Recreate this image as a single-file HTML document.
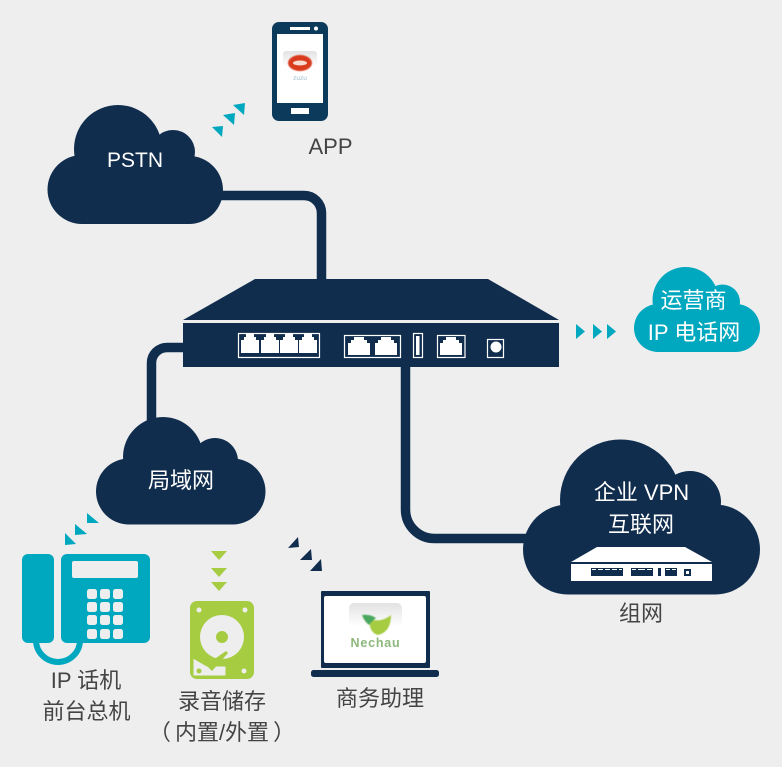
<!DOCTYPE html>
<html>
<head>
<meta charset="utf-8">
<style>
html,body{margin:0;padding:0;background:#eeeeee;}
svg{display:block;}
text{font-family:"Liberation Sans","Noto Sans CJK SC",sans-serif;text-anchor:middle;}
.w{fill:#fff;font-size:22px;}
.d{fill:#444;font-size:22px;}
</style>
</head>
<body>
<svg width="782" height="767" viewBox="0 0 782 767" xmlns="http://www.w3.org/2000/svg">
<defs>
<path id="p" d="M0,6h3v-3h2v-3h8v3h2v3h3v13h-18z" fill="#fff"/>
<linearGradient id="g1" x1="0" y1="0" x2="0" y2="1"><stop offset="0" stop-color="#e2e2e2"/><stop offset=".5" stop-color="#fff"/></linearGradient>
<filter id="b"><feGaussianBlur stdDeviation=".5"/></filter>
</defs>
<rect width="782" height="767" fill="#eeeeee"/>

<!-- connectors -->
<g fill="none" stroke="#112d4e" stroke-width="9.5">
<path d="M215,195.500H304A17.500,17.500 0 0 1 321.500,213V285"/>
<path d="M190,347.500H167A15.500,15.500 0 0 0 151.500,363V425"/>
<path d="M405.500,362V510A29,29 0 0 0 434.500,538.500H535"/>
</g>

<!-- PSTN cloud -->
<g fill="#112d4e">
<circle cx="118" cy="149" r="44"/><circle cx="173" cy="152" r="22"/>
<circle cx="82" cy="189.500" r="34.500"/><circle cx="189" cy="190" r="34"/>
<rect x="82" y="160" width="107" height="64"/>
</g>
<text class="w" x="135" y="167" style="font-size:21px">PSTN</text>

<!-- LAN cloud -->
<g fill="#112d4e">
<circle cx="163" cy="457" r="40"/><circle cx="215" cy="461" r="23"/>
<circle cx="129" cy="491.500" r="33"/><circle cx="232.500" cy="491.500" r="33"/>
<rect x="129" y="465" width="103.500" height="59.500"/>
</g>
<text class="w" x="181" y="488">局域网</text>

<!-- carrier cloud -->
<g fill="#00a8bf">
<circle cx="685.500" cy="300" r="33"/><circle cx="722.500" cy="302" r="17.500"/>
<circle cx="658" cy="328" r="24"/><circle cx="736" cy="328" r="24"/>
<rect x="658" y="310" width="78" height="42"/>
</g>
<text class="w" x="693.500" y="308">运营商</text>
<text class="w" x="694" y="340">IP 电话网</text>

<!-- VPN cloud -->
<g fill="#112d4e">
<circle cx="620.500" cy="500" r="60.500"/><circle cx="690" cy="502" r="31"/>
<circle cx="568" cy="549.500" r="45"/><circle cx="715" cy="549.500" r="45"/>
<rect x="568" y="515" width="147" height="79.500"/>
</g>
<text class="w" x="641.500" y="500">企业 VPN</text>
<text class="w" x="641" y="532">互联网</text>

<!-- mini router -->
<polygon points="571,562 597,547 685,547 712,562" fill="#fff"/>
<rect x="571" y="564" width="141" height="17" fill="#fff"/>
<g fill="#112d4e">
<rect x="591" y="568" width="32" height="8"/><rect x="631" y="568" width="22" height="8"/>
<rect x="658" y="568" width="3" height="8"/><rect x="665" y="568" width="12" height="8"/>
<rect x="684" y="569" width="7" height="7"/>
</g>
<g fill="#fff">
<rect x="592" y="569" width="30" height="1"/>
<rect x="632" y="569" width="20" height="1"/>
<rect x="666" y="569" width="10" height="1"/>
<rect x="686" y="571" width="3" height="3"/>
</g>
<g fill="#112d4e">
<rect x="596" y="569" width="2" height="2"/><rect x="603" y="569" width="2" height="2"/><rect x="610" y="569" width="2" height="2"/><rect x="617" y="569" width="2" height="2"/>
<rect x="636" y="569" width="2" height="2"/><rect x="645" y="569" width="2" height="2"/>
<rect x="670" y="569" width="2" height="2"/>
</g>

<!-- main router -->
<polygon points="183,320 255,279 488,279 559,320" fill="#112d4e"/>
<rect x="183" y="323" width="376" height="44" fill="#112d4e"/>
<g fill="none" stroke="#fff" stroke-width="1.2">
<rect x="238.500" y="333.500" width="81" height="24"/>
<rect x="344.500" y="335.500" width="56" height="22"/>
<rect x="413.500" y="333.500" width="9" height="24"/>
<rect x="437.500" y="335.500" width="27.500" height="22"/>
<rect x="487.500" y="339.500" width="16" height="18"/>
</g>
<use href="#p" x="241" y="334"/><use href="#p" x="261" y="334"/><use href="#p" x="280" y="334"/><use href="#p" x="299" y="334"/>
<path d="M348,343h3v-3h3v-3h10v3h3v3h3v12h-22z" fill="#fff"/>
<path d="M375,343h3v-3h3v-3h10v3h3v3h3v12h-22z" fill="#fff"/>
<path d="M440,343h3v-3h3v-3h10v3h3v3h3v12h-22z" fill="#fff"/>
<rect x="416" y="336" width="3.500" height="19" fill="#fff"/>
<circle cx="496" cy="347" r="5.500" fill="#fff"/>

<!-- teal arrows -->
<g fill="#00a8bf">
<polygon points="576,324 585,331.500 576,339"/>
<polygon points="593,324 602,331.500 593,339"/>
<polygon points="607,324 616,331.500 607,339"/>
<polygon points="212,127 223,126 222,137"/>
<polygon points="223,115 235,113 234,125"/>
<polygon points="233,105 245,103 244,115"/>
<polygon points="65,533 76,544 65,545"/>
<polygon points="75,524 87,534 75,535"/>
<polygon points="87,513 99,523 87,523"/>
</g>

<!-- smartphone -->
<rect x="272" y="22" width="56" height="99" rx="7" fill="#0c3a5b"/>
<rect x="277" y="34" width="46" height="69" fill="#fff"/>
<rect x="290" y="27" width="20" height="3" fill="#fff"/>
<circle cx="316" cy="28.500" r="2" fill="#fff"/>
<rect x="291" y="108" width="18" height="6" fill="#fff"/>
<rect x="283" y="51" width="34" height="30" rx="3" fill="url(#g1)"/>
<ellipse cx="300" cy="63" rx="12" ry="8" fill="#d93a1e" filter="url(#b)"/>
<ellipse cx="300" cy="63" rx="7" ry="2.500" fill="#f6dcd0"/>
<text x="300" y="80" style="font-size:6.500px" fill="#9cc0d0">zuzu</text>
<text class="d" x="330.500" y="154">APP</text>

<!-- desk phone -->
<g fill="#00a8bf">
<rect x="22" y="554" width="32" height="89" rx="6"/>
<rect x="61" y="554" width="89" height="89" rx="6"/>
</g>
<path d="M36,640A22,22 0 0 0 80,640" fill="none" stroke="#00a8bf" stroke-width="6"/>
<rect x="72" y="561" width="66" height="17" rx="2" fill="#eeeeee"/>
<g fill="#eeeeee">
<rect x="87" y="589" width="10" height="10" rx="2.500"/><rect x="100" y="589" width="10" height="10" rx="2.500"/><rect x="113" y="589" width="10" height="10" rx="2.500"/>
<rect x="87" y="602" width="10" height="10" rx="2.500"/><rect x="100" y="602" width="10" height="10" rx="2.500"/><rect x="113" y="602" width="10" height="10" rx="2.500"/>
<rect x="87" y="615" width="10" height="10" rx="2.500"/><rect x="100" y="615" width="10" height="10" rx="2.500"/><rect x="113" y="615" width="10" height="10" rx="2.500"/>
<rect x="87" y="629" width="10" height="10" rx="2.500"/><rect x="100" y="629" width="10" height="10" rx="2.500"/><rect x="113" y="629" width="10" height="10" rx="2.500"/>
</g>
<text class="d" x="86" y="688">IP 话机</text>
<text class="d" x="86.500" y="719">前台总机</text>

<!-- green arrows -->
<g fill="#a6cc42">
<polygon points="211,551 227,551 219,560"/>
<polygon points="211,568 227,568 219,577"/>
<polygon points="211,582 227,582 219,591"/>
</g>

<!-- HDD -->
<rect x="190" y="601" width="64" height="78" rx="7" fill="#a6cc42"/>
<g fill="#eeeeee">
<circle cx="199" cy="610" r="2.500"/><circle cx="245" cy="610" r="2.500"/><circle cx="244" cy="671" r="2.500"/>
<circle cx="222" cy="637" r="22"/>
</g>
<path d="M193,658L207,666L226,666V676H193Z" fill="#eeeeee" stroke="#a6cc42" stroke-width="1"/>
<circle cx="222" cy="637" r="6" fill="#a6cc42"/>
<polygon points="206,665 226,651 228,653 212,671" fill="#a6cc42"/>
<circle cx="199" cy="671" r="2.500" fill="#a6cc42"/>
<text class="d" x="222" y="709">录音储存</text>
<text class="d" x="222" y="740" word-spacing="-2" style="word-spacing:-2px">（ 内置/外置 ）</text>

<!-- navy arrows -->
<g fill="#112d4e">
<polygon points="288,548 299,547 298,537"/>
<polygon points="300,560 312,560 311,549"/>
<polygon points="310,571 322,571 321,559"/>
</g>

<!-- laptop -->
<rect x="321" y="591" width="109" height="77" rx="1" fill="#112d4e"/>
<rect x="324" y="596" width="102" height="67" rx="2" fill="#fff"/>
<rect x="311" y="670" width="128" height="7" rx="2.500" fill="#112d4e"/>
<rect x="349" y="603" width="53" height="47" rx="5" fill="url(#g1)"/>
<path d="M369,618Q380,624 391,615Q391,632 378,635Q369,633 369,618Z" fill="#a6cc42" filter="url(#b)"/>
<path d="M362,615Q370,614 376,618Q371,622 369,625Q364,621 362,615Z" fill="#4ca860" filter="url(#b)"/>
<text x="375.500" y="647" style="font-size:12.500px;font-weight:bold" fill="#8db87c" letter-spacing=".8">Nechau</text>
<text class="d" x="380" y="706">商务助理</text>

<text class="d" x="641" y="621">组网</text>
</svg>
</body>
</html>
